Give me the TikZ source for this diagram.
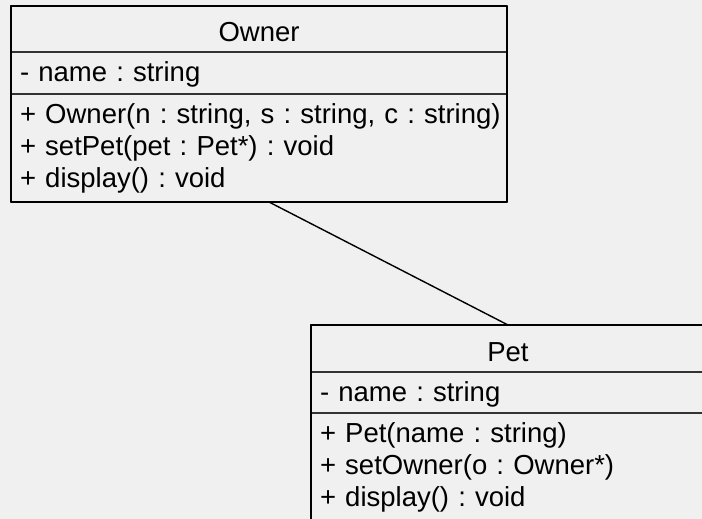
\documentclass[tikz,border=0pt]{standalone}
\usepackage{fontspec}
\setmainfont{Liberation Sans}
\usetikzlibrary{positioning}
\definecolor{canvas}{HTML}{F0F0F0}
\tikzset{
  compart/.style={draw=black!80, line width=1.4pt, outer sep=0pt, anchor=north, inner xsep=9pt, inner ysep=0pt, align=left, font=\fontsize{27.5pt}{32pt}\selectfont\frenchspacing},
  classname/.style={align=center, text height=25pt, text depth=0pt},
  attrline/.style={text height=23pt, text depth=6pt},
  frame/.style={draw=black, line width=1.6pt},
  assoc/.style={draw=black, line width=1.4pt}
}
\begin{document}
\begin{tikzpicture}[x=1pt, y=-1pt, line cap=round, line join=round]
  \fill[canvas](0,0)rectangle(702,519);
  \useasboundingbox(0,0)rectangle(702,519);
  \node[compart, classname, text width=478pt, minimum width=496pt, minimum height=46pt](ownerhead)at(259,6){Owner};
  \node[compart, attrline, text width=478pt, minimum width=496pt, minimum height=42pt, below=0pt of ownerhead](ownerattr){- name : string};
  \node[compart, text width=478pt, minimum width=496pt, minimum height=108pt, below=0pt of ownerattr](ownerops){\mbox{+ Owner(n : string, s : string, c : string)}\\+ setPet(pet : Pet*) : void\\+ display() : void};
  \draw[frame](ownerhead.north west)rectangle(ownerops.south east);
  \node[compart, classname, text width=376pt, minimum width=394pt, minimum height=47pt](pethead)at(508,325){Pet};
  \node[compart, attrline, text width=376pt, minimum width=394pt, minimum height=41pt, below=0pt of pethead](petattr){- name : string};
  \node[compart, text width=376pt, minimum width=394pt, minimum height=108pt, below=0pt of petattr](petops){+ Pet(name : string)\\+ setOwner(o : Owner*)\\+ display() : void};
  \draw[frame](pethead.north west)rectangle(petops.south east);
  \draw[assoc]([xshift=10pt]ownerops.south)--(pethead.north);
\end{tikzpicture}
\end{document}
